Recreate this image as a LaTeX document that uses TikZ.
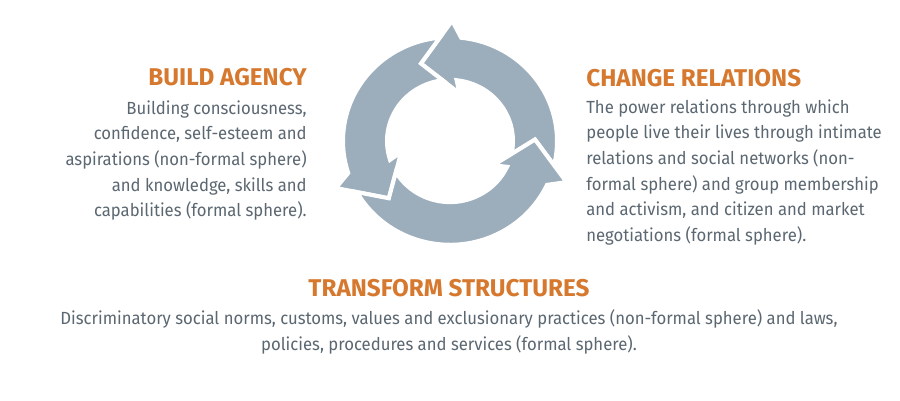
\documentclass[tikz,border=0pt]{standalone}
\usepackage{fontspec}
\setmainfont{Fira Sans}
\newfontfamily\parafont[FakeStretch=0.95]{Fira Sans}
\definecolor{ringc}{HTML}{9CADBC}
\definecolor{headc}{HTML}{D6792F}
\definecolor{bodyc}{HTML}{5B6771}
\newcommand\ringarrow[3]{%
  \pgfmathsetmacro\ao{#1-14.5}\pgfmathsetmacro\ai{#1-13.3}%
  \pgfmathsetmacro\bo{#2+5}\pgfmathsetmacro\bi{#2-5}%
  \fill[arr] (\ao:107) arc[start angle=\ao, end angle=#2, radius=107]
    -- (\bo:124) -- (#3:85) -- (\bi:50) -- (#2:63)
    arc[start angle=#2, end angle=\ai, radius=63] -- (#1:85) -- cycle;}
\begin{document}
\begin{tikzpicture}[x=0.02cm,y=-0.02cm,
  arr/.style={fill=ringc, draw=white, line width=2.3pt, line join=miter},
  head/.style={inner sep=0pt, text=headc, font=\fontsize{13.8pt}{15pt}\selectfont\bfseries},
  para/.style={inner sep=0pt, text=bodyc, font=\parafont\fontsize{10pt}{14.6pt}\selectfont}]
\useasboundingbox (0,0) rectangle (900,401);
\fill[white] (0,0) rectangle (900,401);
\begin{scope}[shift={(450,141)}, yscale=-0.97]
  \ringarrow{1}{84}{110}
  \ringarrow{110}{198}{224}
  \ringarrow{224}{335}{361}
\end{scope}
\node[head, anchor=base east] (ba) at (307,86) {BUILD AGENCY};
\node[para, align=right, anchor=north east] (bat) at (307,96.4)
  {\rule{0pt}{10pt}Building consciousness,\\confidence, self-esteem and\\aspirations (non-formal sphere)\\and knowledge, skills and\\capabilities (formal sphere).};
\node[head, anchor=base west] (cr) at (586,87) {CHANGE RELATIONS};
\node[para, align=left, anchor=north west] (crt) at (586,95.4)
  {\rule{0pt}{10pt}The power relations through which\\people live their lives through intimate\\relations and social networks (non-\\formal sphere) and group membership\\and activism, and citizen and market\\negotiations (formal sphere).};
\node[head, anchor=base] (ts) at (449,297) {TRANSFORM STRUCTURES};
\node[para, align=center, anchor=north] (tst) at (449,307)
  {\rule{0pt}{10pt}Discriminatory social norms, customs, values and exclusionary practices (non-formal sphere) and laws,\\policies, procedures and services (formal sphere).};
\end{tikzpicture}
\end{document}
